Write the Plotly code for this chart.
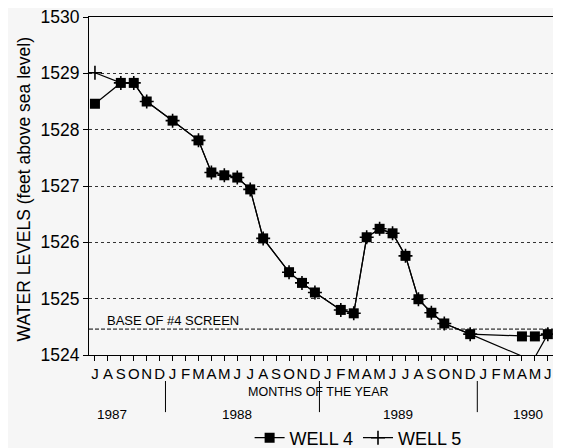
import plotly.graph_objects as go

# ---- data ----
month_letters = list("JASONDJFMAMJ" * 3)          # Jul 1987 .. Jun 1990
years = ["1987", "1988", "1989", "1990"]
year_pos = [1.32, 10.98, 23.4, 33.47]                 # month-index positions of year labels
year_breaks = [5.45, 17.35, 29.55]                    # Dec/Jan separators

well4_dates = ["1987-07", "1987-09", "1987-10", "1987-11", "1988-01", "1988-03", "1988-04",
               "1988-05", "1988-06", "1988-07", "1988-08", "1988-10", "1988-11", "1988-12",
               "1989-02", "1989-03", "1989-04", "1989-05", "1989-06", "1989-07", "1989-08",
               "1989-09", "1989-10", "1989-12", "1990-04", "1990-05", "1990-06"]
well4 = [1528.46, 1528.83, 1528.83, 1528.50, 1528.16, 1527.81, 1527.24,
         1527.19, 1527.15, 1526.94, 1526.07, 1525.47, 1525.28, 1525.11,
         1524.80, 1524.74, 1526.09, 1526.24, 1526.16, 1525.76, 1524.99,
         1524.75, 1524.56, 1524.37, 1524.33, 1524.33, 1524.37]
well5_dates = well4_dates
well5 = [1529.01, 1528.83, 1528.83, 1528.50, 1528.16, 1527.81, 1527.24,
         1527.19, 1527.15, 1526.94, 1526.07, 1525.47, 1525.28, 1525.11,
         1524.80, 1524.74, 1526.09, 1526.24, 1526.16, 1525.76, 1524.99,
         1524.75, 1524.56, 1524.37, 1523.98, 1523.96, 1524.37]
base_screen = 1524.46


def month_index(d):
    y, m = d.split("-")
    return (int(y) - 1987) * 12 + int(m) - 7


x4 = [month_index(d) for d in well4_dates]
x5 = [month_index(d) for d in well5_dates]

FONT = "Liberation Sans, Arial, sans-serif"
fig = go.Figure()
fig.add_trace(go.Scatter(
    x=x5, y=well5, name="WELL 5", mode="lines+markers", legendrank=2,
    line=dict(color="black", width=1.2),
    marker=dict(symbol="cross-thin", size=10, line=dict(color="black", width=1.6)),
    cliponaxis=False))
fig.add_trace(go.Scatter(
    x=x4, y=well4, name="WELL 4", mode="lines+markers", legendrank=1,
    line=dict(color="black", width=1.2),
    marker=dict(symbol="square", size=10, color="black"),
    cliponaxis=False))

# base of screen dashed line
fig.add_shape(type="line", xref="paper", x0=0, x1=1, yref="y", y0=base_screen, y1=base_screen,
              line=dict(color="black", width=1, dash="4px,2px"))
fig.add_annotation(xref="paper", x=0.034, yref="y", y=base_screen + 0.16, text="BASE OF #4 SCREEN",
                   showarrow=False, xanchor="left", yanchor="middle",
                   font=dict(family=FONT, size=13, color="black"))

# year separators and labels
for b in year_breaks:
    fig.add_shape(type="line", xref="x", x0=b, x1=b, yref="paper", y0=-0.077, y1=-0.169,
                  line=dict(color="black", width=1))
for yl, xp in zip(years, year_pos):
    fig.add_annotation(xref="x", x=xp, yref="paper", y=-0.175, text=yl, showarrow=False,
                       xanchor="center", yanchor="middle",
                       font=dict(family=FONT, size=13.5, color="black"))
fig.add_annotation(xref="x", x=17.3, yref="paper", y=-0.108, text="MONTHS OF THE YEAR",
                   showarrow=False, xanchor="center", yanchor="middle",
                   font=dict(family=FONT, size=12.5, color="black"))
fig.add_annotation(xref="paper", x=-0.14, yref="paper", y=0.49,
                   text="WATER LEVELS (feet above sea level)", textangle=-90, showarrow=False,
                   xanchor="center", yanchor="middle",
                   font=dict(family=FONT, size=17.5, color="black"))

fig.update_xaxes(range=[-0.46, 35.4], tickmode="array", tickvals=list(range(36)),
                 ticktext=month_letters, tickangle=0, ticks="outside", ticklen=5, tickwidth=1,
                 tickcolor="black", showline=True, linecolor="black", linewidth=1.2,
                 mirror=True, showgrid=False, zeroline=False, automargin=False,
                 ticklabeloverflow="allow",
                 tickfont=dict(family=FONT, size=15, color="black"))
fig.update_yaxes(range=[1524, 1530], tickmode="array",
                 tickvals=[1524, 1525, 1526, 1527, 1528, 1529, 1530],
                 ticks="outside", ticklen=5, tickwidth=1, tickcolor="black",
                 showline=True, linecolor="black", linewidth=1.2, zeroline=False,
                 showgrid=True, gridcolor="#333333", gridwidth=1, griddash="dot",
                 automargin=False, ticklabeloverflow="allow",
                 tickfont=dict(family=FONT, size=17.5, color="black"))

# the page body places the figure 8px from the top-left corner
fig.update_layout(
    width=545, height=440,
    margin=dict(l=81, r=0, t=9, b=93, autoexpand=False),
    paper_bgcolor="#f6f6f6", plot_bgcolor="#f6f6f6",
    showlegend=True,
    legend=dict(orientation="h", x=0.58, xanchor="center", y=-0.2456, yanchor="middle",
                font=dict(family=FONT, size=18, color="black"), bgcolor="rgba(0,0,0,0)",
                itemwidth=30, tracegroupgap=0),
)

fig.write_html("out.html")
